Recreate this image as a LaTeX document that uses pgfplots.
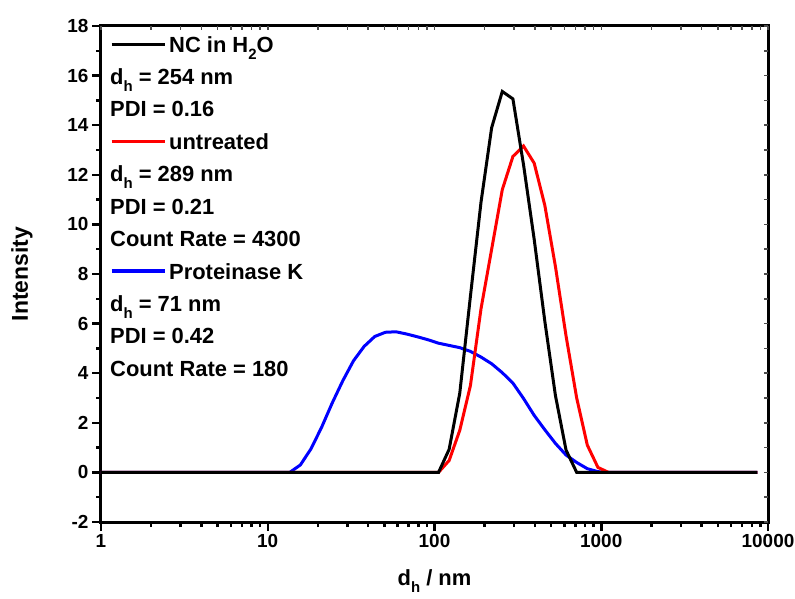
\documentclass[border=0pt]{standalone}
\usepackage{pgfplots}
\pgfplotsset{compat=1.18}
\usepackage{fontspec}
\setmainfont{Liberation Sans}
% Origin-style subscript: smaller and lowered further than \textsubscript
\newcommand{\sub}[1]{\raisebox{-0.6ex}{\fontsize{15}{16}\selectfont #1}}

\begin{document}
\begin{tikzpicture}
\begin{axis}[
    name=ax,
    scale only axis,
    width=667bp, height=496bp,
    xmode=log,
    xmin=1, xmax=10000,
    ymin=-2, ymax=18,
    xtick={1,10,100,1000,10000},
    xticklabels={1,10,100,1000,10000},
    minor xtick={2,3,4,5,6,7,8,9,20,30,40,50,60,70,80,90,200,300,400,500,600,700,800,900,2000,3000,4000,5000,6000,7000,8000,9000},
    ytick={-2,0,2,4,6,8,10,12,14,16,18},
    yticklabels={-2,0,2,4,6,8,10,12,14,16,18},
    minor ytick={-1,1,3,5,7,9,11,13,15,17},
    xtick pos=left, ytick pos=left,
    tick align=outside,
    major tick length=9bp, minor tick length=5bp,
    tick style={line width=2.5bp, black},
    axis line style={line width=3bp},
    ticklabel style={font=\fontsize{19}{21}\selectfont\bfseries},
    xlabel={d\sub{h} / nm},
    ylabel={Intensity},
    xlabel style={font=\fontsize{22}{26}\selectfont\bfseries, at={(axis description cs:0.5,0)}, anchor=north, yshift=-44bp},
    ylabel style={font=\fontsize{23}{26}\selectfont\bfseries, at={(axis description cs:0,0.5)}, anchor=center, yshift=79bp},
    legend cell align=left,
    legend image code/.code={\draw[#1] (0bp,0bp) -- (53bp,0bp);},
    legend style={draw=none, fill=none, inner sep=0pt,
        at={(axis description cs:0,1)}, anchor=north west,
        xshift=9bp, yshift=-8bp,
        font=\fontsize{22}{26}\selectfont\bfseries,
        row sep=12.4bp, column sep=0pt,
        nodes={inner xsep=3bp, inner ysep=0bp, text height=18bp, text depth=2bp}},
]
% Proteinase K
\addplot[blue, line width=3bp, forget plot] coordinates {
    (1,0) (13.54,0) (15.69,0.3) (18.17,0.95) (21.04,1.82) (24.36,2.8)
    (28.21,3.7) (32.67,4.5) (37.84,5.08) (43.82,5.48) (50.75,5.65)
    (58.77,5.67) (68.06,5.58) (78.82,5.47) (91.28,5.35) (105.7,5.21)
    (122.4,5.12) (141.8,5.03) (164.2,4.88) (190.1,4.65) (220.2,4.38)
    (255.0,4.02) (295.3,3.6) (342.0,2.98) (396.1,2.3) (458.7,1.72)
    (531.2,1.17) (615.1,0.7) (712.4,0.4) (825.0,0.15) (955.4,0.03)
    (1106,0) (8635,0)
};
% untreated
\addplot[red, line width=3bp, forget plot] coordinates {
    (1,0) (105.7,0) (122.4,0.48) (141.8,1.7) (164.2,3.5) (190.1,6.6)
    (220.2,9.0) (255.0,11.4) (295.3,12.74) (342.0,13.16) (396.1,12.47)
    (458.7,10.77) (531.2,8.3) (615.1,5.5) (712.4,3.0) (825.0,1.1)
    (955.4,0.2) (1106,0) (8635,0)
};
% NC in H2O
\addplot[black, line width=3bp, forget plot] coordinates {
    (1,0) (105.7,0) (122.4,0.93) (141.8,3.2) (164.2,7.1) (190.1,10.9)
    (220.2,13.9) (255.0,15.36) (295.3,15.06) (342.0,12.4) (396.1,9.4)
    (458.7,6.1) (531.2,3.1) (615.1,0.9) (712.4,0) (8635,0)
};

\addlegendimage{black, line width=3bp}
\addlegendentry{NC in H\sub{2}O}
\addlegendimage{empty legend}
\addlegendentry{\hspace*{-59bp}d\sub{h} = 254 nm}
\addlegendimage{empty legend}
\addlegendentry{\hspace*{-59bp}PDI = 0.16}
\addlegendimage{red, line width=3bp}
\addlegendentry{untreated}
\addlegendimage{empty legend}
\addlegendentry{\hspace*{-59bp}d\sub{h} = 289 nm}
\addlegendimage{empty legend}
\addlegendentry{\hspace*{-59bp}PDI = 0.21}
\addlegendimage{empty legend}
\addlegendentry{\hspace*{-59bp}Count Rate = 4300}
\addlegendimage{blue, line width=3bp}
\addlegendentry{Proteinase K}
\addlegendimage{empty legend}
\addlegendentry{\hspace*{-59bp}d\sub{h} = 71 nm}
\addlegendimage{empty legend}
\addlegendentry{\hspace*{-59bp}PDI = 0.42}
\addlegendimage{empty legend}
\addlegendentry{\hspace*{-59bp}Count Rate = 180}
\end{axis}

% mirrored ticks on top and right, pointing inward
\begin{axis}[
    at={(ax.south west)}, anchor=south west,
    scale only axis,
    width=667bp, height=496bp,
    xmode=log,
    xmin=1, xmax=10000,
    ymin=-2, ymax=18,
    xtick={1,10,100,1000,10000},
    minor xtick={2,3,4,5,6,7,8,9,20,30,40,50,60,70,80,90,200,300,400,500,600,700,800,900,2000,3000,4000,5000,6000,7000,8000,9000},
    ytick={-2,0,2,4,6,8,10,12,14,16,18},
    minor ytick={-1,1,3,5,7,9,11,13,15,17},
    xticklabels={}, yticklabels={},
    xtick pos=right, ytick pos=right,
    tick align=inside,
    major tick length=4bp, minor tick length=4bp,
    tick style={line width=1.5bp, black!70},
    axis line style={draw=none},
]
\end{axis}

\pgfresetboundingbox
\path ([shift={(-101bp,-77bp)}]ax.south west) rectangle ([shift={(27bp,26bp)}]ax.north east);
\end{tikzpicture}
\end{document}
